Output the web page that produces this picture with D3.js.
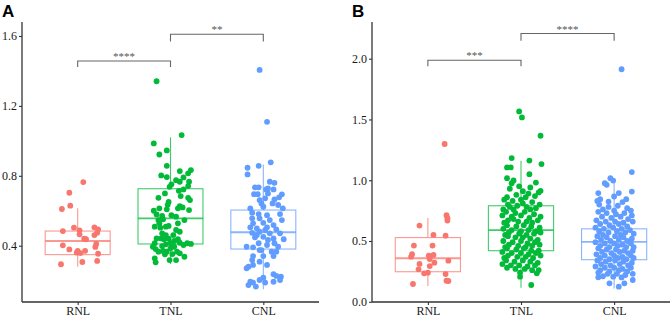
<!DOCTYPE html>
<html>
<head>
<meta charset="utf-8">
<script src="https://cdn.jsdelivr.net/npm/d3@7"></script>
<style>
  body { margin: 0; background: #fff; }
  text { font-family: 'Liberation Serif', 'Times New Roman', serif; }
</style>
</head>
<body>
<div id="app"></div>
<script>
'use strict'

// groups, colours and tick labels
const groups = ['RNL', 'TNL', 'CNL']
const groupColors = ['#F8766D', '#00BA38', '#619CFF']
const ticksA = [0.4, 0.8, 1.2, 1.6]
const ticksB = [0.0, 0.5, 1.0, 1.5, 2.0]

// box stats: [whiskerLow, q1, median, q3, whiskerHigh]
const boxesA = [
  [0.28, 0.349, 0.427, 0.484, 0.614],
  [0.295, 0.41, 0.557, 0.726, 1.02],
  [0.151, 0.381, 0.477, 0.604, 0.865]
]
const boxesB = [
  [0.13, 0.247, 0.358, 0.528, 0.69],
  [0.115, 0.42, 0.59, 0.79, 1.16],
  [0.11, 0.346, 0.492, 0.60, 1.0]
]

// points: [jitter (fraction of a category step), value]
const rnlA = [
  [0.06, 0.764], [-0.09, 0.703], [-0.08, 0.629], [-0.17, 0.61], [-0.16, 0.484],
  [-0.04, 0.503], [0.02, 0.488], [0.02, 0.465], [0.07, 0.44], [0.09, 0.437],
  [0.18, 0.505], [0.22, 0.494], [0.21, 0.474], [0.18, 0.461], [0.20, 0.41],
  [0.19, 0.393], [-0.16, 0.402], [-0.09, 0.379], [-0.01, 0.36], [0.03, 0.358],
  [0.08, 0.371], [0.22, 0.354], [0.05, 0.307], [0.21, 0.313], [-0.18, 0.294],
  [0.0, 0.37]
]
const tnlA = [
  [-0.15, 1.341], [0.12, 1.033], [-0.18, 0.985], [-0.04, 0.945], [-0.12, 0.922],
  [-0.04, 0.857], [-0.10, 0.802], [-0.04, 0.793], [0.10, 0.827], [0.22, 0.833],
  [0.19, 0.814], [0.14, 0.791], [0.10, 0.766], [0.20, 0.766], [0.01, 0.751],
  [-0.01, 0.737], [0.19, 0.741], [0.09, 0.714], [0.14, 0.722], [-0.06, 0.699],
  [-0.13, 0.674], [0.19, 0.674], [0.21, 0.661], [-0.02, 0.651], [-0.03, 0.634],
  [0.10, 0.627], [0.08, 0.614], [0.13, 0.619], [-0.12, 0.614], [-0.18, 0.60],
  [-0.04, 0.608], [0.20, 0.604], [-0.15, 0.579], [-0.09, 0.57], [-0.08, 0.551],
  [-0.17, 0.509], [-0.11, 0.503], [-0.05, 0.509], [-0.02, 0.513], [0.08, 0.528],
  [0.06, 0.49], [0.10, 0.48], [-0.09, 0.471], [-0.05, 0.461], [-0.10, 0.442],
  [-0.07, 0.437], [-0.02, 0.44], [0.04, 0.427], [0.08, 0.437], [0.10, 0.417],
  [0.14, 0.404], [0.18, 0.414], [0.22, 0.41], [-0.17, 0.414], [-0.19, 0.394],
  [-0.16, 0.381], [-0.09, 0.398], [-0.05, 0.408], [0.0, 0.414], [0.0, 0.385],
  [0.04, 0.394], [-0.08, 0.37], [-0.06, 0.351], [0.02, 0.352], [0.07, 0.366],
  [0.10, 0.356], [0.15, 0.337], [-0.17, 0.328], [-0.16, 0.305], [-0.01, 0.318],
  [0.11, 0.684], [0.06, 0.775], [-0.13, 0.547], [0.06, 0.566], [0.01, 0.575],
  [0.15, 0.547], [-0.12, 0.528], [0.03, 0.461], [-0.13, 0.366], [-0.04, 0.366],
  [0.06, 0.318], [-0.15, 0.442]
]
const cnlA = [
  [-0.04, 1.406], [0.04, 1.109], [0.08, 0.877], [-0.05, 0.857], [-0.17, 0.846],
  [-0.17, 0.808], [0.07, 0.766], [0.12, 0.76], [-0.09, 0.734], [-0.05, 0.734],
  [0.03, 0.722], [0.11, 0.722], [-0.10, 0.695], [-0.06, 0.695], [0.05, 0.699],
  [0.20, 0.694], [0.17, 0.677], [0.12, 0.665], [-0.04, 0.661], [-0.02, 0.642],
  [0.10, 0.642], [-0.14, 0.614], [0.0, 0.623], [0.21, 0.614], [-0.12, 0.589],
  [-0.05, 0.581], [0.04, 0.575], [0.18, 0.581], [-0.04, 0.557], [0.07, 0.547],
  [0.20, 0.547], [-0.11, 0.528], [0.0, 0.531], [0.11, 0.518], [-0.14, 0.505],
  [-0.07, 0.499], [0.04, 0.505], [0.14, 0.494], [-0.12, 0.474], [-0.04, 0.48],
  [0.07, 0.471], [0.18, 0.471], [-0.09, 0.448], [0.0, 0.451], [0.11, 0.442],
  [0.22, 0.437], [-0.18, 0.394], [-0.11, 0.391], [0.04, 0.404], [0.16, 0.394],
  [-0.04, 0.375], [0.09, 0.366], [-0.11, 0.341], [0.0, 0.341], [0.11, 0.341],
  [-0.12, 0.318], [-0.04, 0.309], [-0.16, 0.28], [-0.18, 0.271], [-0.11, 0.29],
  [0.0, 0.217], [0.11, 0.237], [0.14, 0.227], [0.19, 0.223], [0.18, 0.204],
  [-0.04, 0.204], [-0.14, 0.194], [-0.11, 0.189], [-0.16, 0.175], [-0.08, 0.166],
  [0.02, 0.189], [-0.07, 0.461], [0.05, 0.433], [0.02, 0.49], [-0.05, 0.414],
  [0.12, 0.414], [-0.12, 0.557], [0.16, 0.633], [0.02, 0.671], [0.05, 0.728],
  [-0.02, 0.375], [0.14, 0.366], [0.04, 0.29], [0.11, 0.194]
]

const rnlB = [
  [0.18, 1.298], [0.20, 0.712], [0.21, 0.687], [0.21, 0.668], [-0.09, 0.627],
  [0.06, 0.55], [0.19, 0.544], [-0.15, 0.462], [0.05, 0.462], [-0.17, 0.391],
  [-0.18, 0.371], [0.01, 0.379], [0.06, 0.385], [0.02, 0.352], [0.22, 0.338],
  [0.07, 0.322], [-0.09, 0.311], [0.02, 0.294], [-0.10, 0.267], [-0.04, 0.234],
  [0.0, 0.239], [0.19, 0.228], [-0.16, 0.146], [0.20, 0.173], [0.22, 0.171]
]
const tnlB = [
  [-0.02, 1.566], [0.01, 1.517], [0.21, 1.366], [-0.10, 1.182], [0.09, 1.162],
  [0.22, 1.133], [-0.15, 1.105], [-0.11, 1.105], [0.09, 1.05], [-0.15, 1.017],
  [0.16, 0.981], [-0.08, 0.998], [-0.10, 0.976], [0.21, 0.913], [0.11, 0.138],
  [-0.01, 0.206], [-0.01, 0.239], [0.17, 0.234], [0.19, 0.261],
  [-0.12, 0.93], [0.02, 0.91], [0.10, 0.94], [-0.05, 0.88], [0.15, 0.87],
  [-0.15, 0.86], [0.05, 0.86], [0.19, 0.90], [-0.02, 0.95], [0.08, 0.89],
  [-0.18, 0.84], [-0.09, 0.83], [0.00, 0.84], [0.12, 0.82], [0.20, 0.80],
  [-0.14, 0.80], [-0.04, 0.79], [0.06, 0.78], [0.16, 0.77], [-0.19, 0.76],
  [-0.08, 0.76], [0.02, 0.81], [0.10, 0.76], [-0.12, 0.78],
  [-0.16, 0.74], [-0.06, 0.73], [0.04, 0.74], [0.14, 0.72], [0.21, 0.70],
  [-0.20, 0.71], [-0.10, 0.70], [0.00, 0.71], [0.09, 0.69], [0.18, 0.67],
  [-0.14, 0.67], [-0.03, 0.66], [0.06, 0.66], [-0.18, 0.65], [0.12, 0.65],
  [-0.08, 0.68],
  [-0.15, 0.63], [-0.05, 0.62], [0.03, 0.63], [0.11, 0.62], [0.20, 0.61],
  [-0.19, 0.60], [-0.10, 0.59], [0.00, 0.58], [0.08, 0.59], [0.16, 0.58],
  [-0.13, 0.57], [-0.02, 0.56], [0.06, 0.55], [0.14, 0.56], [-0.17, 0.55],
  [0.21, 0.57],
  [-0.14, 0.54], [-0.06, 0.53], [0.02, 0.53], [0.10, 0.52], [0.18, 0.51],
  [-0.19, 0.50], [-0.09, 0.49], [0.00, 0.50], [0.07, 0.48], [0.15, 0.49],
  [-0.13, 0.47], [-0.03, 0.46], [0.05, 0.45], [0.12, 0.46], [0.20, 0.47],
  [-0.17, 0.45],
  [-0.15, 0.44], [-0.05, 0.43], [0.03, 0.44], [0.11, 0.42], [0.19, 0.42],
  [-0.20, 0.41], [-0.10, 0.40], [0.00, 0.40], [0.08, 0.39], [0.16, 0.40],
  [-0.14, 0.38], [-0.04, 0.37], [0.05, 0.37], [0.13, 0.36], [0.21, 0.38],
  [-0.18, 0.36],
  [-0.16, 0.34], [-0.07, 0.33], [0.02, 0.34], [0.10, 0.33], [0.18, 0.32],
  [-0.20, 0.31], [-0.11, 0.30], [-0.02, 0.30], [0.07, 0.29], [0.15, 0.30],
  [-0.15, 0.28], [-0.06, 0.27], [0.04, 0.27], [0.12, 0.26]
]
const cnlB = [
  [0.08, 1.913], [0.19, 1.067], [-0.04, 1.017], [-0.01, 0.997], [-0.08, 0.962],
  [-0.10, 0.976], [0.19, 0.907], [-0.17, 0.894], [0.05, 0.894], [0.13, 0.844],
  [-0.15, 0.844], [0.0, 0.866], [-0.06, 0.824],
  [-0.05, 0.152], [0.11, 0.152], [0.05, 0.124], [0.20, 0.179], [-0.17, 0.201],
  [-0.01, 0.206],
  [-0.16, 0.80], [-0.06, 0.78], [0.04, 0.79], [0.14, 0.77], [-0.12, 0.76],
  [0.00, 0.75], [0.09, 0.82], [0.18, 0.75], [-0.18, 0.83],
  [-0.17, 0.74], [-0.08, 0.73], [0.02, 0.72], [0.11, 0.73], [0.19, 0.71],
  [-0.13, 0.70], [-0.03, 0.69], [0.07, 0.70], [0.15, 0.68], [-0.19, 0.67],
  [-0.09, 0.66], [0.01, 0.66], [0.10, 0.65], [0.20, 0.66],
  [-0.15, 0.64], [-0.05, 0.63], [0.05, 0.64], [0.14, 0.62], [-0.20, 0.61],
  [-0.11, 0.60], [-0.01, 0.61], [0.08, 0.60], [0.17, 0.59], [-0.16, 0.58],
  [-0.06, 0.57], [0.03, 0.58], [0.12, 0.57], [0.21, 0.56], [-0.12, 0.55],
  [0.07, 0.55],
  [-0.18, 0.54], [-0.08, 0.53], [0.01, 0.54], [0.10, 0.53], [0.19, 0.52],
  [-0.14, 0.51], [-0.04, 0.50], [0.05, 0.51], [0.14, 0.50], [-0.20, 0.49],
  [-0.10, 0.48], [0.00, 0.48], [0.09, 0.47], [0.18, 0.48], [-0.15, 0.46],
  [-0.05, 0.45], [0.04, 0.46], [0.13, 0.45], [0.21, 0.45],
  [-0.17, 0.44], [-0.08, 0.43], [0.02, 0.43], [0.11, 0.42], [0.20, 0.42],
  [-0.13, 0.41], [-0.03, 0.40], [0.06, 0.41], [0.15, 0.40], [-0.19, 0.39],
  [-0.10, 0.38], [0.00, 0.38], [0.09, 0.37], [0.18, 0.38], [-0.15, 0.36],
  [-0.05, 0.35], [0.04, 0.36], [0.13, 0.35], [0.21, 0.36],
  [-0.18, 0.34], [-0.09, 0.33], [0.01, 0.34], [0.10, 0.33], [0.19, 0.32],
  [-0.14, 0.31], [-0.04, 0.30], [0.06, 0.31], [0.15, 0.30], [-0.20, 0.29],
  [-0.10, 0.28], [0.00, 0.28], [0.09, 0.27], [0.18, 0.28], [-0.15, 0.26],
  [-0.05, 0.25], [0.05, 0.26], [0.14, 0.25],
  [-0.17, 0.24], [-0.07, 0.23], [0.03, 0.23], [0.12, 0.22], [0.20, 0.23],
  [-0.12, 0.21], [0.08, 0.20]
]

// significance brackets: [from, to, bracket height, tip end, label]
const sigA = [
  ['RNL', 'TNL', 1.457, 1.423, '****'],
  ['TNL', 'CNL', 1.61, 1.568, '**']
]
const sigB = [
  ['RNL', 'TNL', 1.987, 1.937, '***'],
  ['TNL', 'CNL', 2.207, 2.147, '****']
]

const W = 671, H = 317
const svg = d3.select('#app').append('svg')
  .attr('width', W)
  .attr('height', H)

const panels = [
  { letter: 'A', left: 22, right: 319, domain: [0.078, 1.68], ticks: ticksA, fmt: d3.format('.1f'),
    points: [rnlA, tnlA, cnlA], boxes: boxesA, sig: sigA },
  { letter: 'B', left: 372, right: 670, domain: [-0.002, 2.302], ticks: ticksB, fmt: d3.format('.1f'),
    points: [rnlB, tnlB, cnlB], boxes: boxesB, sig: sigB }
]
const plotTop = 22, plotBottom = 302

panels.forEach(p => {
  const x = d3.scalePoint().domain(groups).range([p.left, p.right]).padding(0.6)
  const y = d3.scaleLinear().domain(p.domain).range([plotBottom, plotTop])
  const step = x.step()
  const boxW = step * 0.7
  const g = svg.append('g')

  // axes
  const yAx = g.append('g')
    .attr('transform', `translate(${p.left},0)`)
    .call(d3.axisLeft(y).tickValues(p.ticks).tickFormat(p.fmt).tickSize(3).tickSizeOuter(0).tickPadding(2))
  const xAx = g.append('g')
    .attr('transform', `translate(0,${plotBottom})`)
    .call(d3.axisBottom(x).tickSize(3).tickSizeOuter(0).tickPadding(2))
  ;[yAx, xAx].forEach(a => {
    a.select('.domain').attr('stroke', '#333').attr('stroke-width', 1.3)
    a.selectAll('.tick line').attr('stroke', '#333').attr('stroke-width', 1.1)
    a.selectAll('.tick text')
      .attr('fill', '#1a1a1a')
      .style('font-family', "'Liberation Serif', serif")
      .style('font-size', '12px')
  })
  xAx.selectAll('.tick text').attr('dy', '0.7em')
  yAx.select('.domain').attr('d', `M0,${plotTop}V${plotBottom}`)
  xAx.select('.domain').attr('d', `M${p.left},0H${p.right}`)

  // boxes
  groups.forEach((grp, i) => {
    const b = p.boxes[i]
    const cx = x(grp)
    const col = groupColors[i]
    const bg = g.append('g')
      .attr('stroke', col)
      .attr('stroke-opacity', 0.75)
      .attr('fill', 'none')
      .attr('stroke-width', 1.1)
    bg.append('line').attr('x1', cx).attr('x2', cx).attr('y1', y(b[0])).attr('y2', y(b[1]))
    bg.append('line').attr('x1', cx).attr('x2', cx).attr('y1', y(b[3])).attr('y2', y(b[4]))
    bg.append('rect')
      .attr('x', cx - boxW / 2).attr('width', boxW)
      .attr('y', y(b[3])).attr('height', y(b[1]) - y(b[3]))
    bg.append('line')
      .attr('x1', cx - boxW / 2).attr('x2', cx + boxW / 2)
      .attr('y1', y(b[2])).attr('y2', y(b[2]))
      .attr('stroke-width', 1.8)
  })

  // jittered points
  groups.forEach((grp, i) => {
    g.append('g').selectAll('circle')
      .data(p.points[i])
      .enter().append('circle')
      .attr('cx', d => x(grp) + d[0] * step)
      .attr('cy', d => y(d[1]))
      .attr('r', 2.9)
      .attr('fill', groupColors[i])
  })

  // significance brackets
  p.sig.forEach(s => {
    const x1 = x(s[0]), x2 = x(s[1])
    g.append('path')
      .attr('d', `M${x1},${y(s[3])}V${y(s[2])}H${x2}V${y(s[3])}`)
      .attr('fill', 'none')
      .attr('stroke', '#666')
      .attr('stroke-width', 1.1)
    g.append('text')
      .attr('x', (x1 + x2) / 2)
      .attr('y', y(s[2]) - 1)
      .attr('text-anchor', 'middle')
      .attr('fill', '#555')
      .style('font-size', '11px')
      .text(s[4])
  })

  // panel letter
  svg.append('text')
    .attr('x', p.left - 20)
    .attr('y', 17)
    .style('font-family', "'Liberation Sans', Arial, sans-serif")
    .style('font-weight', 'bold')
    .style('font-size', '17px')
    .text(p.letter)
})
</script>
</body>
</html>
